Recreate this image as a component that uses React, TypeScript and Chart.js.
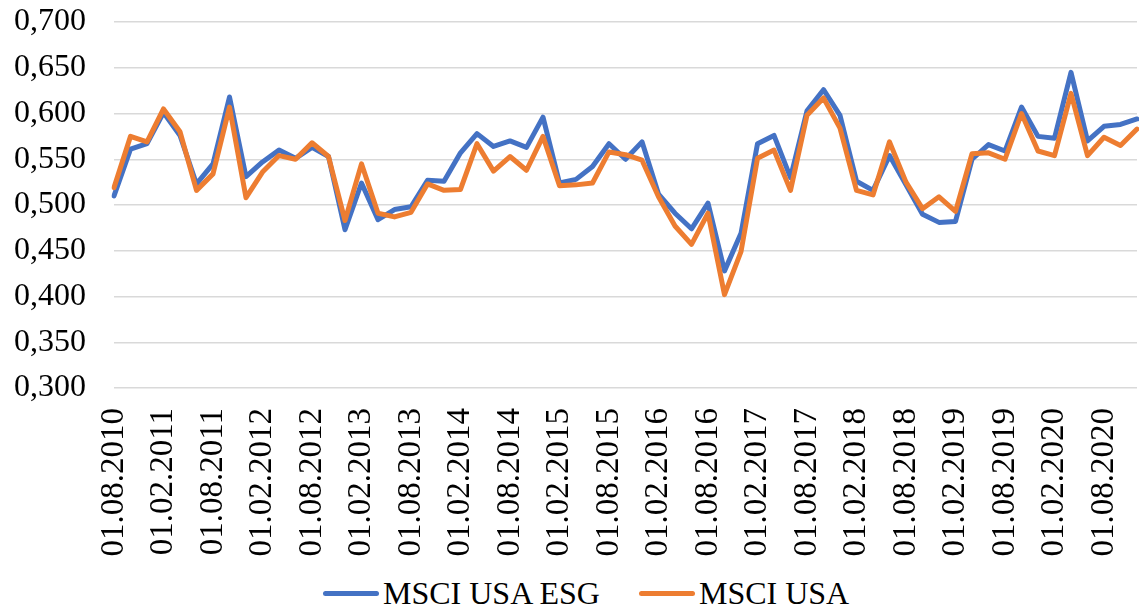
import React, { useEffect, useRef } from "react";
import { Chart, registerables } from "chart.js";

Chart.register(...registerables);

const dateLabels: string[] = [
  "01.08.2010", "01.10.2010", "01.12.2010",
  "01.02.2011", "01.04.2011", "01.06.2011", "01.08.2011", "01.10.2011", "01.12.2011",
  "01.02.2012", "01.04.2012", "01.06.2012", "01.08.2012", "01.10.2012", "01.12.2012",
  "01.02.2013", "01.04.2013", "01.06.2013", "01.08.2013", "01.10.2013", "01.12.2013",
  "01.02.2014", "01.04.2014", "01.06.2014", "01.08.2014", "01.10.2014", "01.12.2014",
  "01.02.2015", "01.04.2015", "01.06.2015", "01.08.2015", "01.10.2015", "01.12.2015",
  "01.02.2016", "01.04.2016", "01.06.2016", "01.08.2016", "01.10.2016", "01.12.2016",
  "01.02.2017", "01.04.2017", "01.06.2017", "01.08.2017", "01.10.2017", "01.12.2017",
  "01.02.2018", "01.04.2018", "01.06.2018", "01.08.2018", "01.10.2018", "01.12.2018",
  "01.02.2019", "01.04.2019", "01.06.2019", "01.08.2019", "01.10.2019", "01.12.2019",
  "01.02.2020", "01.04.2020", "01.06.2020", "01.08.2020", "01.10.2020", "01.12.2020",
];

const msciUsaEsg: number[] = [
  0.510, 0.561, 0.567, 0.601, 0.576, 0.523, 0.545, 0.618, 0.531, 0.547,
  0.560, 0.551, 0.563, 0.553, 0.473, 0.524, 0.484, 0.495, 0.498, 0.527,
  0.526, 0.557, 0.578, 0.564, 0.570, 0.563, 0.596, 0.524, 0.528, 0.542,
  0.567, 0.550, 0.569, 0.512, 0.491, 0.474, 0.502, 0.428, 0.469, 0.567,
  0.576, 0.530, 0.603, 0.626, 0.598, 0.526, 0.516, 0.554, 0.522, 0.490,
  0.481, 0.482, 0.550, 0.566, 0.559, 0.607, 0.575, 0.573, 0.645, 0.570,
  0.586, 0.588, 0.594,
];

const msciUsa: number[] = [
  0.519, 0.575, 0.569, 0.605, 0.580, 0.516, 0.534, 0.607, 0.508, 0.536,
  0.554, 0.550, 0.568, 0.553, 0.483, 0.545, 0.491, 0.487, 0.492, 0.523,
  0.516, 0.517, 0.567, 0.537, 0.553, 0.538, 0.575, 0.521, 0.522, 0.524,
  0.558, 0.555, 0.549, 0.509, 0.477, 0.457, 0.491, 0.402, 0.449, 0.551,
  0.560, 0.516, 0.598, 0.617, 0.584, 0.516, 0.511, 0.569, 0.525, 0.496,
  0.509, 0.493, 0.556, 0.557, 0.550, 0.600, 0.559, 0.554, 0.622, 0.554,
  0.574, 0.565, 0.583,
];

const seriesNames = ["MSCI USA ESG", "MSCI USA"];
const seriesColors = ["#4472C4", "#ED7D31"];
const labelEvery = 3;

const FONT = "'Liberation Serif', 'Times New Roman', serif";

export default function App() {
  const canvasRef = useRef<HTMLCanvasElement | null>(null);

  useEffect(() => {
    if (!canvasRef.current) return;
    const chart = new Chart(canvasRef.current, {
      type: "line",
      data: {
        labels: dateLabels,
        datasets: [
          {
            label: seriesNames[0],
            data: msciUsaEsg,
            borderColor: seriesColors[0],
            backgroundColor: seriesColors[0],
            borderWidth: 5,
            pointRadius: 0,
            tension: 0,
            borderJoinStyle: "round",
            borderCapStyle: "round",
            order: 1,
          },
          {
            label: seriesNames[1],
            data: msciUsa,
            borderColor: seriesColors[1],
            backgroundColor: seriesColors[1],
            borderWidth: 5,
            pointRadius: 0,
            tension: 0,
            borderJoinStyle: "round",
            borderCapStyle: "round",
            order: 0,
          },
        ],
      },
      options: {
        animation: false,
        responsive: true,
        maintainAspectRatio: false,
        layout: { padding: { top: 22, right: 2, left: 0, bottom: 0 } },
        plugins: {
          tooltip: { enabled: false },
          legend: { display: false },
        },
        scales: {
          x: {
            type: "category",
            offset: false,
            grid: { display: false, drawTicks: false },
            border: { display: false },
            ticks: {
              autoSkip: false,
              minRotation: 90,
              maxRotation: 90,
              padding: 20,
              color: "#000",
              font: { family: FONT, size: 33 },
              callback: (_v: any, idx: number) => (idx % labelEvery === 0 ? dateLabels[idx] : ""),
            },
            afterFit: (scale: any) => {
              scale.height = 187;
              scale.paddingLeft = 0;
              scale.paddingRight = 0;
            },
          },
          y: {
            min: 0.3,
            max: 0.7,
            grid: { color: "#D9D9D9", lineWidth: 1.5, drawTicks: false },
            border: { display: false },
            ticks: {
              stepSize: 0.05,
              padding: 28,
              color: "#000",
              font: { family: FONT, size: 32 },
              callback: (v: any) => Number(v).toFixed(3).replace(".", ","),
            },
            afterFit: (scale: any) => {
              scale.width = 114;
              scale.paddingTop = 0;
              scale.paddingBottom = 0;
            },
          },
        },
      },
    } as any);
    return () => chart.destroy();
  }, []);

  const legendText: React.CSSProperties = {
    fontFamily: FONT,
    fontSize: 32,
    lineHeight: "32px",
    color: "#000",
    whiteSpace: "nowrap",
  };
  const legendLine = (color: string): React.CSSProperties => ({
    width: 56,
    height: 5,
    borderRadius: 3,
    background: color,
    marginRight: 4,
    flex: "0 0 auto",
  });

  return (
    <div style={{ position: "absolute", left: 0, top: 0, width: 1139, height: 610, background: "#fff", overflow: "hidden" }}>
      <div style={{ position: "absolute", left: 0, top: 0, width: 1139, height: 575 }}>
        <canvas ref={canvasRef} />
      </div>
      <div
        style={{
          position: "absolute",
          left: 323,
          top: 577,
          height: 32,
          display: "flex",
          alignItems: "center",
        }}
      >
        <div style={legendLine(seriesColors[0])} />
        <span style={legendText}>{seriesNames[0]}</span>
        <div style={{ width: 39 }} />
        <div style={legendLine(seriesColors[1])} />
        <span style={legendText}>{seriesNames[1]}</span>
      </div>
    </div>
  );
}
